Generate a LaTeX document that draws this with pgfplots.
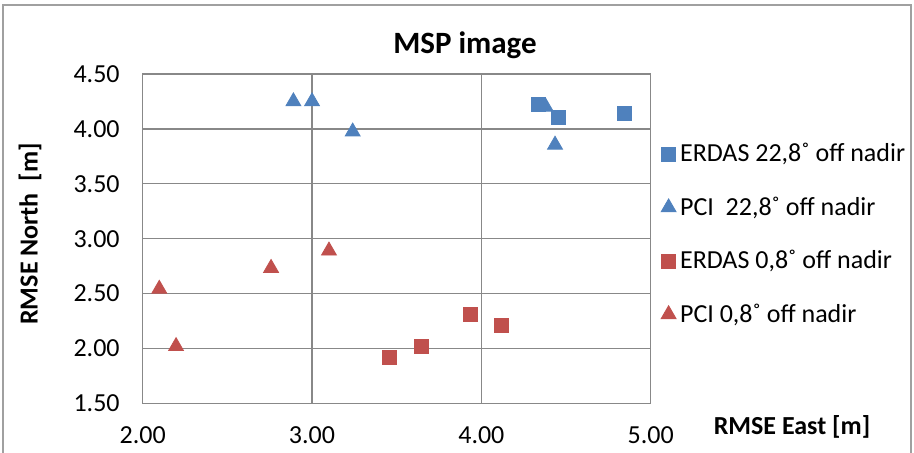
\documentclass[border=0pt]{standalone}
\usepackage{pgfplots}
\pgfplotsset{compat=1.18}
\usepackage{fontspec}
\setmainfont{Carlito}
\definecolor{xblue}{HTML}{4F81BD}
\definecolor{xred}{HTML}{C0504D}
\definecolor{xgrid}{HTML}{888888}
\begin{document}
\begin{tikzpicture}
\useasboundingbox (0pt,0pt) rectangle (457pt,226.5pt);
\draw[xgrid!80, line width=0.6pt] (1.5pt,-5pt) -- (1.5pt,224pt) -- (455.5pt,224pt) -- (455.5pt,-5pt);
\begin{axis}[
  at={(71.35pt,24.75pt)}, anchor=south west,
  scale only axis, width=254pt, height=164.75pt,
  xmin=2, xmax=5, ymin=1.5, ymax=4.5,
  xtick={2,3,4,5}, ytick={1.5,2,2.5,3,3.5,4,4.5},
  grid=major, major grid style={xgrid, line width=0.6pt},
  axis line style={xgrid, line width=0.6pt},
  major tick length=0pt,
  /pgf/number format/.cd, fixed, fixed zerofill, precision=2, assume math mode=true,
  /pgfplots/.cd,
  tick label style={font=\fontsize{13}{15}\selectfont},
  yticklabel style={xshift=-8pt},
  xticklabel style={yshift=-8pt},
  legend cell align=left,
  legend style={draw=none, fill=none, at={(1.008,0.815)}, anchor=north west,
    font=\fontsize{13}{15}\selectfont, row sep=12pt,
    /tikz/every odd column/.append style={column sep=0pt}},
  legend image code/.code={\draw[#1] plot coordinates {(0.3cm,0cm)};},
]
\addplot[only marks, mark=square*, mark size=3.5pt, color=xblue] coordinates {
(4.337,4.225) (4.455,4.106) (4.845,4.143)};
\addlegendentry{ERDAS 22,8˚ off nadir}
\addplot[only marks, mark=triangle*, mark size=4.3pt, color=xblue] coordinates {
(2.89,4.25) (3.00,4.25) (3.24,3.975) (4.435,3.855)};
\addlegendentry{PCI\ \ 22,8˚ off nadir}
\addplot[only marks, mark=square*, mark size=3.5pt, color=xred] coordinates {
(3.457,1.921) (3.648,2.021) (3.933,2.315) (4.12,2.212)};
\addlegendentry{ERDAS 0,8˚ off nadir}
\addplot[only marks, mark=triangle*, mark size=4.3pt, color=xred] coordinates {
(2.098,2.543) (2.758,2.733) (3.10,2.891) (2.197,2.021)};
\addlegendentry{PCI 0,8˚ off nadir}
\addplot[only marks, mark=triangle*, mark size=4.3pt, color=xblue, forget plot] coordinates {(4.38,4.20)};
\addplot[only marks, mark=square*, mark size=3.5pt, color=xblue, forget plot] coordinates {(4.337,4.225) (4.455,4.106)};
\end{axis}
\node[font=\bfseries\fontsize{15.5}{18}\selectfont] at (232.5pt,204pt) {MSP image};
\node[font=\bfseries\fontsize{13}{15}\selectfont] at (396pt,13pt) {RMSE East [m]};
\node[font=\bfseries\fontsize{13}{15}\selectfont, rotate=90] at (15pt,109.5pt) {RMSE North\ \ [m]};
\end{tikzpicture}
\end{document}
